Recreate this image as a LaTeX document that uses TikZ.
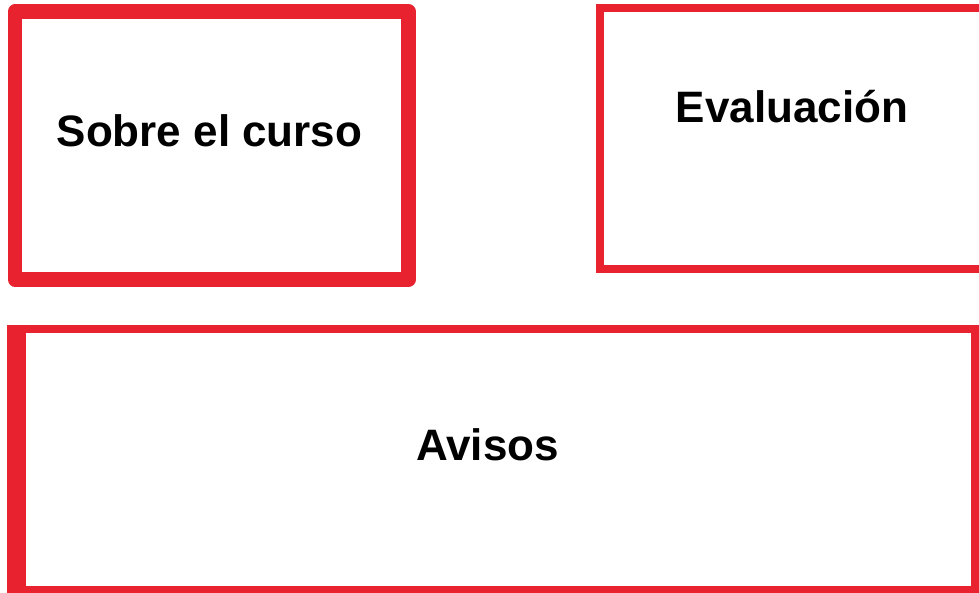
\documentclass[tikz,border=0pt]{standalone}
\usepackage{fontspec}
\setmainfont{Liberation Sans}
\definecolor{boxred}{HTML}{E8222F}
\begin{document}
\begin{tikzpicture}[x=1pt,y=-1pt,
  lbl/.style={font=\fontsize{44}{50}\selectfont\bfseries, anchor=base, inner sep=0pt, text=black},
  frame/.style={draw=boxred, line join=round}]
\useasboundingbox (0,0) rectangle (979,592);
% Sobre el curso
\draw[frame, line width=14.5pt] (15,11.5) rectangle (408.5,279.5);
\node[lbl] (sobre) at (209.5,146) {Sobre el curso};
% Evaluacion
\draw[frame, line width=8pt, line join=miter] (600,8) rectangle (1000,269);
\node[lbl] (eval) at (792,122) {Evaluación};
% Avisos
\draw[frame, line width=8pt, line join=miter] (11,329) rectangle (975,590);
\fill[boxred] (7,325) rectangle (26,594);
\node[lbl] (avisos) at (487.5,460) {Avisos};
\end{tikzpicture}
\end{document}
